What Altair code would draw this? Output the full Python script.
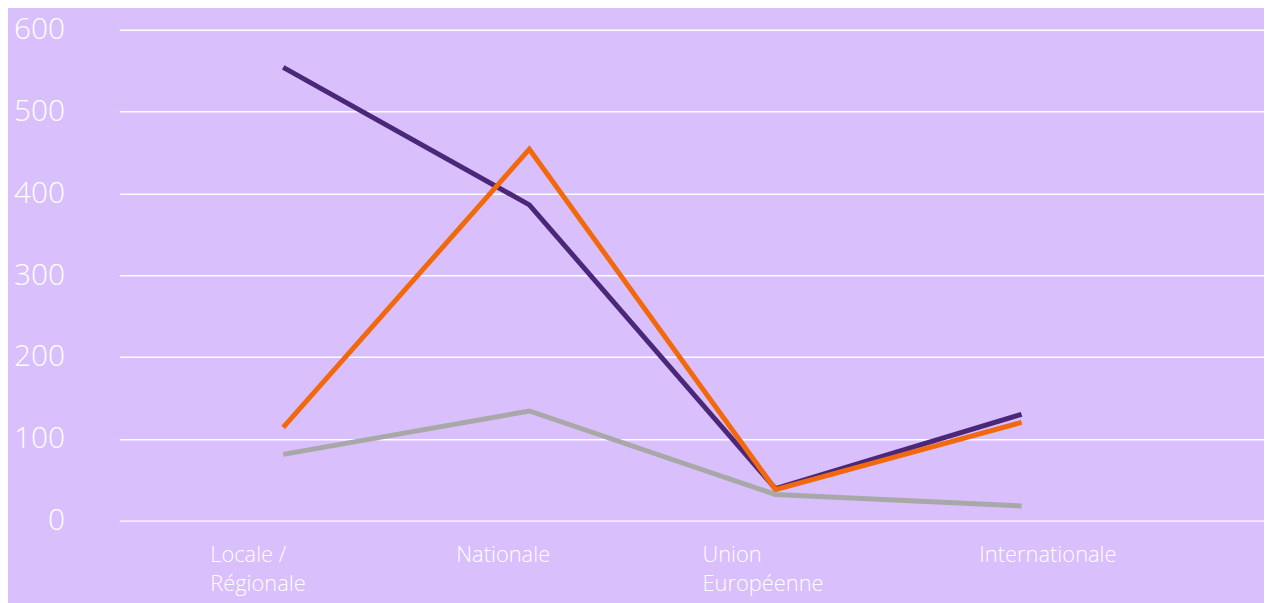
import json
import altair as alt
import pandas as pd

categories = ["Locale / Régionale", "Nationale", "Union Européenne", "Internationale"]
category_lines = [["Locale /", "Régionale"], ["Nationale"], ["Union", "Européenne"], ["Internationale"]]
series_names = ["Série 1", "Série 2", "Série 3"]
series_1 = [554, 386, 39, 130]
series_2 = [114, 454, 38, 120]
series_3 = [81, 134, 32, 18]
colors = ["#4B2779", "#F2690D", "#A8A8A8"]

rows = []
for name, vals in zip(series_names, [series_1, series_2, series_3]):
    for i, (cat, v) in enumerate(zip(categories, vals)):
        rows.append({"serie": name, "idx": i, "categorie": cat, "valeur": v})
df = pd.DataFrame(rows)

label_expr = json.dumps(category_lines, ensure_ascii=False) + "[datum.value]"

chart = alt.Chart(df).mark_line(strokeWidth=5).encode(
    x=alt.X("idx:Q", scale=alt.Scale(domain=[-0.666, 3.985], nice=False, zero=False),
            axis=alt.Axis(values=[0, 1, 2, 3], labelExpr=label_expr, grid=False, domain=False,
                          ticks=False, labelAlign="left",
                          labelOffset={"condition": {"test": "datum.value == 3", "value": -43}, "value": -74},
                          labelPadding=24,
                          labelFontSize=22, labelColor="white", labelFont="Open Sans",
                          labelFontWeight=300, labelLineHeight=29, labelBaseline="top",
                          title=None)),
    y=alt.Y("valeur:Q", scale=alt.Scale(domain=[0, 600], nice=False),
            axis=alt.Axis(values=[0, 100, 200, 300, 400, 500, 600], grid=True, gridColor="white",
                          gridWidth=1.5, domain=False, ticks=False, labelPadding=55,
                          labelFontSize=30, labelColor="white", labelFont="Open Sans",
                          labelFontWeight=300, title=None)),
    color=alt.Color("serie:N", scale=alt.Scale(domain=series_names, range=colors), legend=None),
    order=alt.Order("idx:Q"),
).properties(
    width=1152, height=494, background="#D9BFFB",
    padding={"left": 112, "top": 20, "right": 0, "bottom": 81},
    autosize=alt.AutoSizeParams(type="none"),
).configure_view(stroke=None, fill="#D9BFFB")

chart.save("out.html", embed_options={"renderer": "svg", "actions": False})
